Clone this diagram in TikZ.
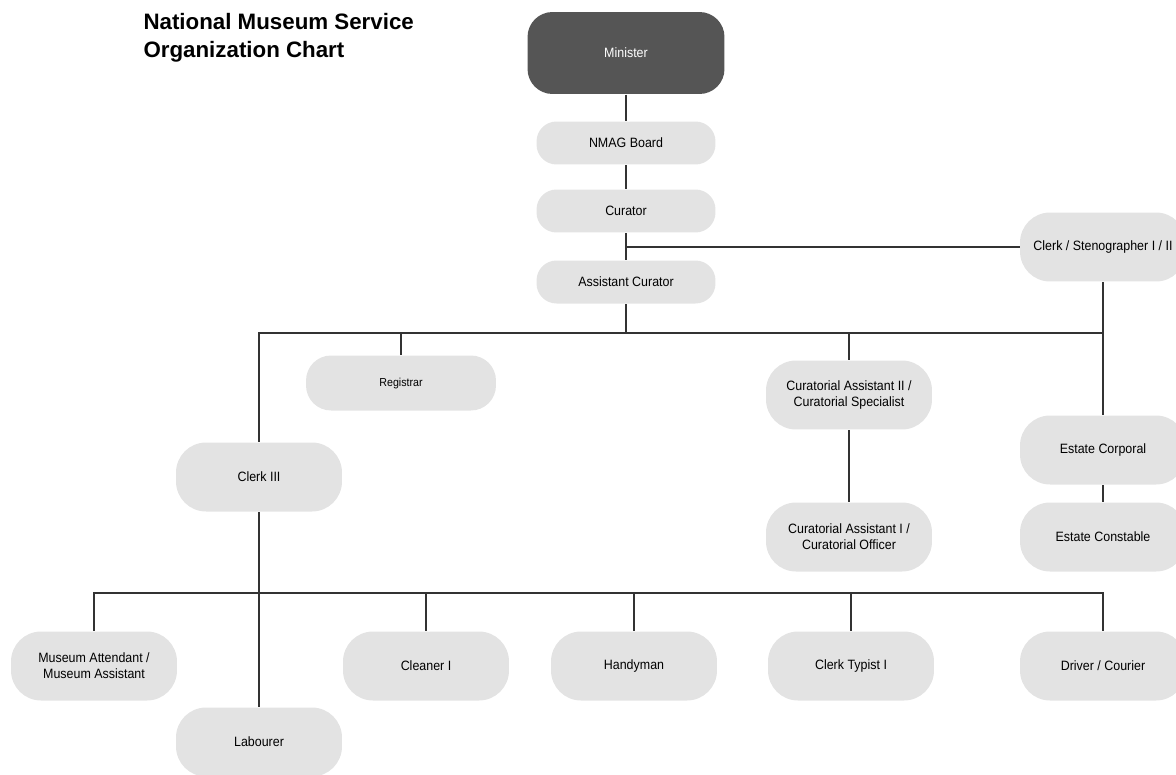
\documentclass[tikz,border=0pt]{standalone}
\usepackage{fontspec}
\setmainfont{Liberation Sans}
\newfontfamily\boxfont{Liberation Sans}[FakeStretch=0.92]
\usepackage{xcolor}
\usepackage{tikz}
\usetikzlibrary{positioning}

\definecolor{boxgray}{HTML}{E3E3E3}
\definecolor{chiefgray}{HTML}{555555}
\definecolor{linegray}{HTML}{333333}

\begin{document}
\begin{tikzpicture}[x=0.02cm, y=-0.02cm, line width=0.6pt, draw=linegray,
  role node/.style={rectangle, rounded corners=0.6cm, fill=boxgray, align=center,
    minimum width=3.32cm, minimum height=1.38cm, inner sep=2pt,
    font=\boxfont\fontsize{7.7}{9.2}\selectfont},
  upper node/.style={role node, rounded corners=0.4cm, minimum width=3.58cm, minimum height=0.86cm},
  reg node/.style={role node, rounded corners=0.5cm, minimum width=3.8cm, minimum height=1.1cm,
    font=\boxfont\fontsize{6.6}{8}\selectfont},
  chief node/.style={role node, rounded corners=0.5cm, fill=chiefgray, text=white,
    minimum width=3.94cm, minimum height=1.64cm},
  title text/.style={anchor=north west, inner sep=0pt, align=left,
    font=\fontsize{12.7}{15.9}\selectfont\bfseries}]

  \useasboundingbox (0,0) rectangle (1176,774);

  \node[title text] (title) at (143,13) {National Museum Service\\Organization Chart};

  % top of the chart
  \node[chief node] (minister) at (626,53) {Minister};
  \node[upper node] (board) at (626,143) {NMAG Board};
  \node[upper node] (curator) at (626,211) {Curator};
  \node[upper node] (acurator) at (626,282) {Assistant Curator};
  \node[role node] (steno) at (1103,247) {Clerk / Stenographer I / II};

  % middle row
  \node[reg node] (registrar) at (401,383) {Registrar};
  \node[role node] (clerk3) at (259,477) {Clerk III};
  \node[role node] (cura2) at (849,395) {Curatorial Assistant II /\\Curatorial Specialist};
  \node[role node] (cura1) at (849,537) {Curatorial Assistant I /\\Curatorial Officer};
  \node[role node] (corporal) at (1103,450) {Estate Corporal};
  \node[role node] (constable) at (1103,537) {Estate Constable};

  % bottom row
  \node[role node] (attendant) at (94,666) {Museum Attendant /\\Museum Assistant};
  \node[role node] (cleaner) at (426,666) {Cleaner I};
  \node[role node] (handyman) at (634,666) {Handyman};
  \node[role node] (typist) at (851,666) {Clerk Typist I};
  \node[role node] (driver) at (1103,666) {Driver / Courier};
  \node[role node] (labourer) at (259,742) {Labourer};

  \coordinate (split) at (626,247);
  \coordinate (bus) at (626,333);
  \coordinate (bus end) at (1103,333);
  \coordinate (low bus) at (259,593);

  \draw (minister) -- (board);
  \draw (board) -- (curator);
  \draw (curator) -- (acurator);
  \draw (split) -- (steno);
  \draw (acurator) -- (bus);
  \draw (bus) -- (bus end);
  \draw (bus) -| (clerk3);
  \draw (bus) -| (registrar);
  \draw (bus) -| (cura2);
  \draw (steno) -- (corporal);
  \draw (cura2) -- (cura1);
  \draw (corporal) -- (constable);
  \draw (clerk3) -- (labourer);
  \foreach \n in {attendant, cleaner, handyman, typist, driver}
    \draw (low bus) -| (\n);
\end{tikzpicture}
\end{document}
